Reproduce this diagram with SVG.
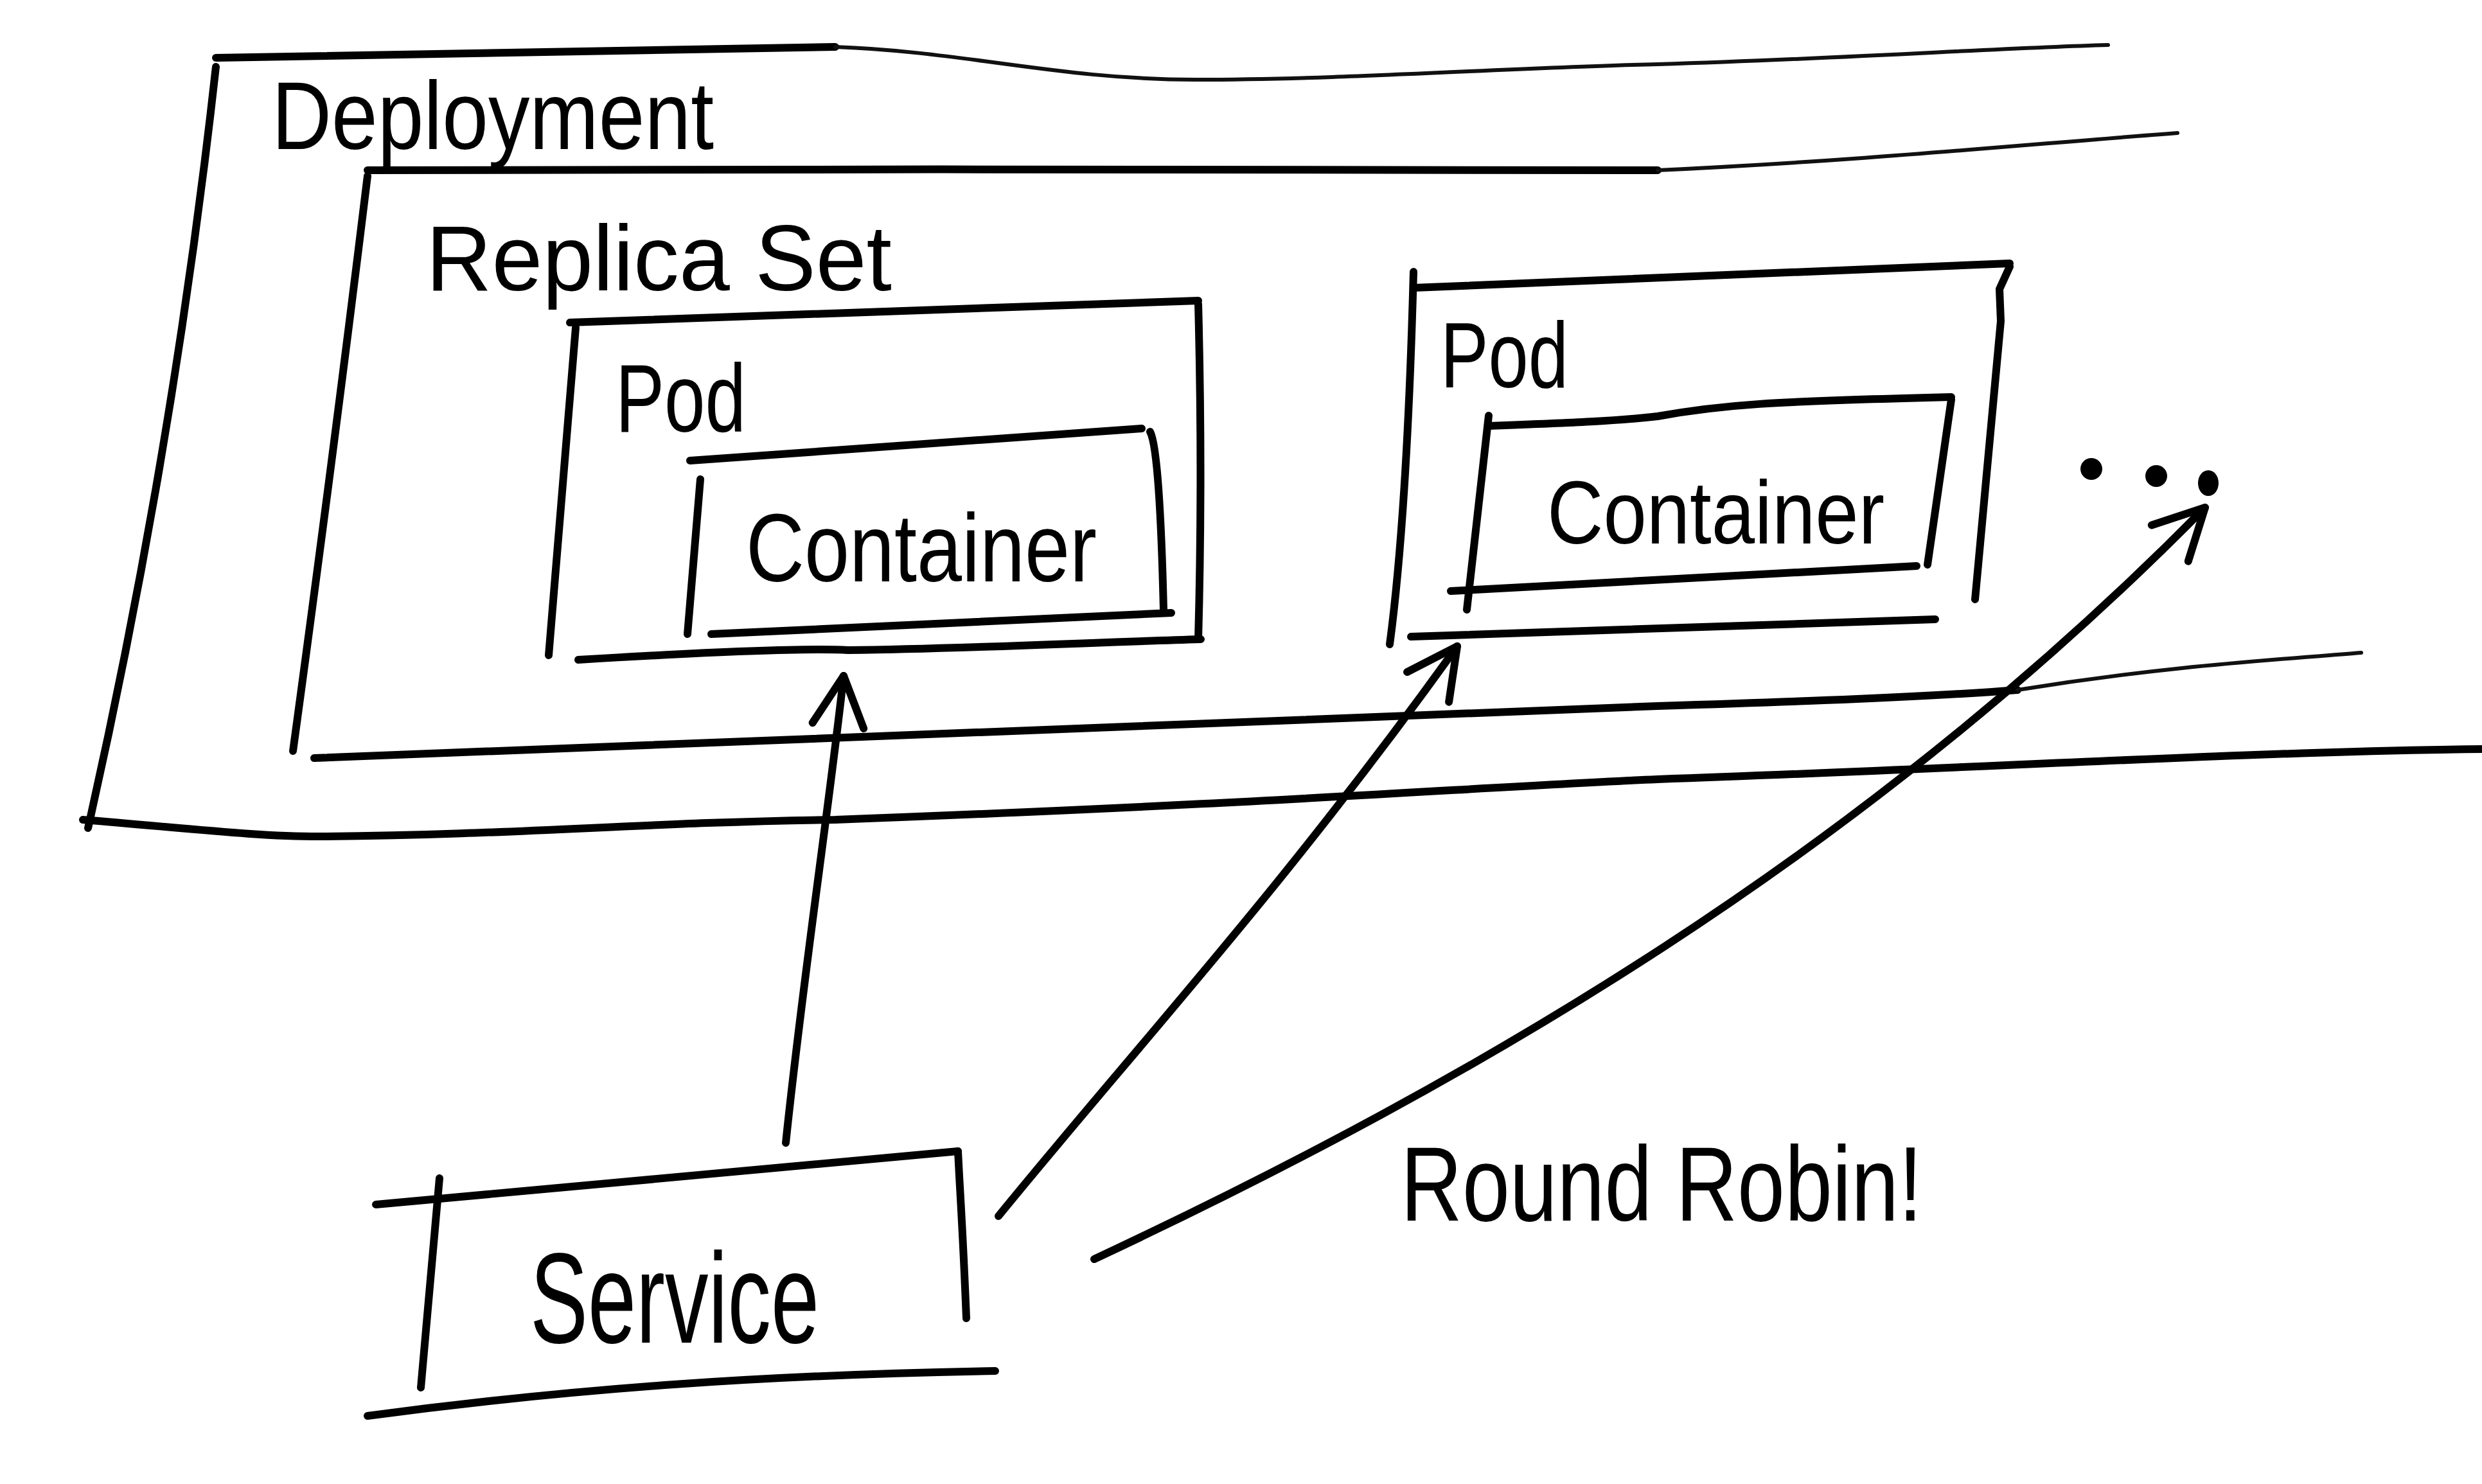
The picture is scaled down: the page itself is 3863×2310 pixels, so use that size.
<svg xmlns="http://www.w3.org/2000/svg" width="3863" height="2310" viewBox="0 0 3863 2310">
<style>
.ln{fill:none;stroke:#000;stroke-width:12;stroke-linecap:round;stroke-linejoin:round}
.thin{fill:none;stroke:#111;stroke-width:6;stroke-linecap:round}
.tx{font-family:"Liberation Sans","DejaVu Sans",sans-serif;fill:#000}
</style>
<defs>
<marker id="arr" markerUnits="userSpaceOnUse" markerWidth="200" markerHeight="200" viewBox="-100 -100 200 200" refX="0" refY="0" orient="auto" overflow="visible">
<path d="M -78 -40 L 0 0 L -78 40" fill="none" stroke="#000" stroke-width="12" stroke-linecap="round" stroke-linejoin="round"/>
</marker>
</defs>
<rect width="3863" height="2310" fill="#fff"/>
<g id="deployment">
<path class="ln" d="M336 90 C700 82 1000 76 1300 73"/>
<path class="thin" d="M1300 73 C1500 80 1650 124 1860 124 C2100 124 2350 105 2580 100 C2900 90 3100 75 3281 70"/>
<path class="ln" d="M336 104 Q270 700 137 1289"/>
<path class="ln" d="M129 1276 C300 1290 400 1302 497 1302 C800 1300 1000 1280 1300 1276 C2000 1250 2300 1225 2580 1213 C3100 1195 3500 1170 3863 1166"/>
<text class="tx" x="423" y="232" font-size="150" textLength="688" lengthAdjust="spacingAndGlyphs">Deployment</text>
</g>
<g id="replicaset">
<path class="ln" d="M572 265 C1200 264 2000 262 2580 265"/>
<path class="thin" d="M2580 265 C2900 250 3150 225 3389 207"/>
<path class="ln" d="M572 274 Q520 700 456 1169"/>
<path class="ln" d="M489 1180 C900 1160 1500 1140 2580 1099 C2800 1092 3000 1085 3140 1074"/>
<path class="thin" d="M3140 1074 C3350 1040 3500 1030 3675 1016"/>
<text class="tx" x="663" y="452" font-size="145" textLength="725" lengthAdjust="spacingAndGlyphs">Replica Set</text>
</g>
<g id="pod1">
<path class="ln" d="M887 502 L1865 468"/>
<path class="ln" d="M896 510 L854 1020"/>
<path class="ln" d="M1865 473 Q1872 740 1865 995"/>
<path class="ln" d="M900 1027 C1100 1015 1250 1008 1320 1012 C1500 1010 1700 1000 1869 995"/>
<text class="tx" x="958" y="672" font-size="150" textLength="203" lengthAdjust="spacingAndGlyphs">Pod</text>
</g>
<g id="container1">
<path class="ln" d="M1074 717 L1777 667"/>
<path class="ln" d="M1090 746 L1070 987"/>
<path class="ln" d="M1790 672 Q1805 700 1811 949"/>
<path class="ln" d="M1107 987 L1823 954"/>
<text class="tx" x="1161" y="905" font-size="150" textLength="546" lengthAdjust="spacingAndGlyphs">Container</text>
</g>
<g id="pod2">
<path class="ln" d="M2200 448 L3128 410"/>
<path class="ln" d="M2200 423 Q2190 800 2163 1003"/>
<path class="ln" d="M3128 415 L3112 450 L3114 500 L3074 933"/>
<path class="ln" d="M2196 991 L3012 964"/>
<text class="tx" x="2242" y="603" font-size="145" textLength="199" lengthAdjust="spacingAndGlyphs">Pod</text>
</g>
<g id="container2">
<path class="ln" d="M2317 663 C2450 658 2520 655 2580 648 C2680 630 2750 625 3037 618"/>
<path class="ln" d="M2317 647 L2283 949"/>
<path class="ln" d="M3037 622 L3000 879"/>
<path class="ln" d="M2258 920 L2983 881"/>
<text class="tx" x="2408" y="846" font-size="140" textLength="525" lengthAdjust="spacingAndGlyphs">Container</text>
</g>
<g id="more">
<circle cx="3255" cy="730" r="17"/>
<circle cx="3356" cy="741" r="17"/>
<ellipse cx="3437" cy="752" rx="16" ry="20"/>
</g>
<g id="service">
<path class="ln" d="M585 1875 C900 1845 1150 1825 1491 1792"/>
<path class="ln" d="M684 1834 L655 2160"/>
<path class="ln" d="M1491 1792 L1493 1830 Q1500 1950 1504 2052"/>
<path class="ln" d="M572 2204 C900 2160 1200 2140 1549 2134"/>
<text class="tx" x="825" y="2090" font-size="200" textLength="450" lengthAdjust="spacingAndGlyphs">Service</text>
</g>
<g id="label-roundrobin">
<text class="tx" x="2180" y="1900" font-size="165" textLength="812" lengthAdjust="spacingAndGlyphs">Round Robin!</text>
</g>
<g id="connectors">
<path class="ln" d="M1223 1779 C1250 1520 1290 1260 1313 1052" marker-end="url(#arr)"/>
<path class="ln" d="M1554 1893 C1760 1640 2000 1380 2268 1006" marker-end="url(#arr)"/>
<path class="ln" d="M1703 1960 C2300 1680 2900 1330 3432 790" marker-end="url(#arr)"/>
</g>
</svg>
